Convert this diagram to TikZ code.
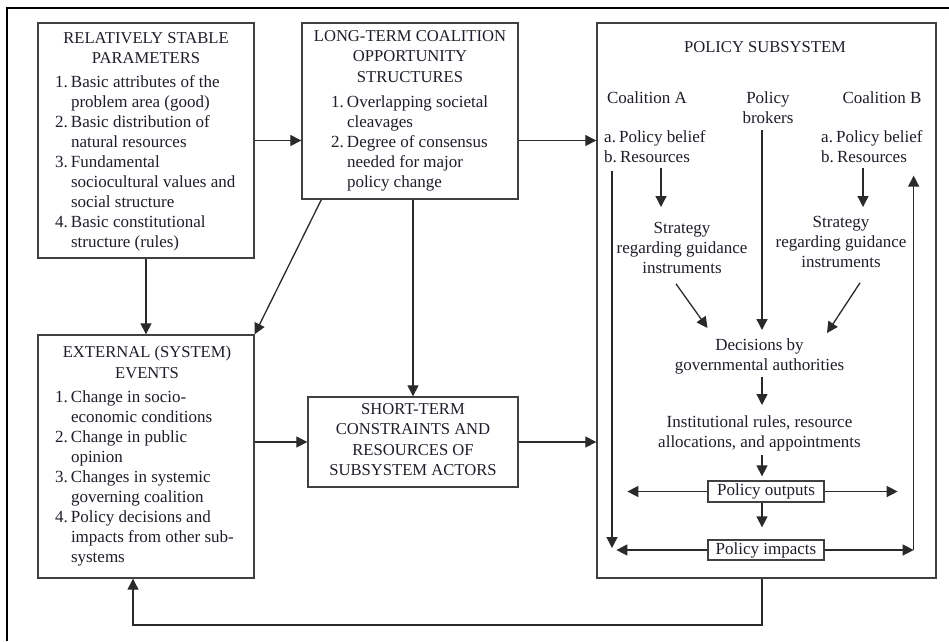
\documentclass[tikz,border=0pt]{standalone}
\usepackage{fontspec}
\setmainfont{Liberation Serif}
\usetikzlibrary{arrows.meta,calc}
\definecolor{txtc}{HTML}{1E1E2A}
\definecolor{linec}{HTML}{2A2A2A}
\definecolor{boxc}{HTML}{404040}
\newcommand{\itm}[1]{#1.\hspace{0.18em}}
\newcommand{\ind}{\hphantom{1.\hspace{0.18em}}}
\begin{document}
\begin{tikzpicture}[x=1pt,y=-1pt,
  boxx/.style={draw=boxc,line width=1.4pt,inner sep=0pt},
  txt/.style={text=txtc,font=\fontsize{17}{20}\selectfont,inner sep=1pt},
  ttl/.style={text=txtc,font=\fontsize{16.6}{20.5}\selectfont,inner sep=1pt,align=center},
  arr/.style={draw=linec,line width=1.3pt,-{Triangle[length=11pt,width=11pt]}},
  smallbox/.style={draw=boxc,line width=1.3pt,inner sep=0pt,text=txtc,font=\fontsize{17}{20}\selectfont}]
\useasboundingbox (0,0) rectangle (949,641);
\fill[white] (0,0) rectangle (949,641);
% outer frame (partly visible)
\draw[line width=2pt,black] (7,641) -- (7,8) -- (949,8);

% boxes
\node[boxx,minimum width=216pt,minimum height=235pt] (rsp) at (146,140.5) {};
\node[boxx,minimum width=216pt,minimum height=176pt] (ltc) at (410,111) {};
\node[boxx,minimum width=339pt,minimum height=555pt] (ps) at (766.5,300.5) {};
\node[boxx,minimum width=216pt,minimum height=243pt] (ee) at (146,456.5) {};
\node[boxx,minimum width=210pt,minimum height=90pt] (st) at (413,442) {};

% box texts
\node[ttl,anchor=north] (rspT) at (146,31) {RELATIVELY STABLE\\PARAMETERS};
\node[txt,anchor=north west,align=left] (rspL) at (54,74) {\itm{1}Basic attributes of the\\
\ind problem area (good)\\
\itm{2}Basic distribution of\\
\ind natural resources\\
\itm{3}Fundamental\\
\ind sociocultural values and\\
\ind social structure\\
\itm{4}Basic constitutional\\
\ind structure (rules)};

\node[ttl,anchor=north] (ltcT) at (410,29) {LONG-TERM COALITION\\OPPORTUNITY\\STRUCTURES};
\node[txt,anchor=north west,align=left] (ltcL) at (330,94) {\itm{1}Overlapping societal\\
\ind cleavages\\
\itm{2}Degree of consensus\\
\ind needed for major\\
\ind policy change};

\node[ttl,anchor=north] (eeT) at (147,345) {EXTERNAL (SYSTEM)\\EVENTS};
\node[txt,anchor=north west,align=left] (eeL) at (54,389) {\itm{1}Change in socio-\\
\ind economic conditions\\
\itm{2}Change in public\\
\ind opinion\\
\itm{3}Changes in systemic\\
\ind governing coalition\\
\itm{4}Policy decisions and\\
\ind impacts from other sub-\\
\ind systems};

\node[ttl,anchor=north] (stT) at (413,402) {SHORT-TERM\\CONSTRAINTS AND\\RESOURCES OF\\SUBSYSTEM ACTORS};

% policy subsystem contents
\node[ttl] (psT) at (765,47) {POLICY SUBSYSTEM};
\node[txt] (coA) at (647,98) {Coalition A};
\node[txt,anchor=north,align=center] (brk) at (768,90) {Policy\\brokers};
\node[txt] (coB) at (882,98) {Coalition B};
\node[txt,anchor=north west,align=left] (ba) at (603,129) {a.\hspace{0.18em}Policy belief\\b.\hspace{0.18em}Resources};
\node[txt,anchor=north west,align=left] (bb) at (820,129) {a.\hspace{0.18em}Policy belief\\b.\hspace{0.18em}Resources};
\node[txt,anchor=north,align=center] (stratA) at (682,221) {Strategy\\regarding guidance\\instruments};
\node[txt,anchor=north,align=center] (stratB) at (841,215) {Strategy\\regarding guidance\\instruments};
\node[txt,anchor=north,align=center] (dec) at (759.5,337) {Decisions by\\governmental authorities};
\node[txt,anchor=north,align=center] (inst) at (759.5,414) {Institutional rules, resource\\allocations, and appointments};
\node[smallbox,minimum width=116pt,minimum height=21pt] (outp) at (766,491.5) {Policy outputs};
\node[smallbox,minimum width=116pt,minimum height=20pt] (imp) at (766,550) {Policy impacts};

\coordinate (aAx) at (661,0);
\coordinate (bBx) at (863,0);
\coordinate (vx) at (762,0);
\coordinate (lvx) at (612,0);
\coordinate (fb) at (133,625);

% main connectors
\draw[arr] (rsp.east) -- (rsp.east -| ltc.west);
\draw[arr] (ltc.east |- rsp.east) -- (ps.west |- rsp.east);
\draw[arr] (rsp.south) -- (ee.north);
\draw[arr] ([xshift=20pt]ltc.south west) -- (ee.north east);
\draw[arr] (st.north |- ltc.south) -- (st.north);
\draw[arr] (ee.east |- st.west) -- (st.west);
\draw[arr] (st.east) -- (st.east -| ps.west);
\draw[arr] (ps.south -| vx) |- (fb) -- (fb |- ee.south);

% inside policy subsystem
\draw[arr,shorten <=4pt,shorten >=14pt] (ba.south -| aAx) -- (stratA.north -| aAx);
\draw[arr,shorten <=4pt,shorten >=8pt] (bb.south -| bBx) -- (stratB.north -| bBx);
\draw[arr] ($(stratA.south)+(-6,9)$) -- ($(dec.north)+(-52,-9)$);
\draw[arr] ($(stratB.south)+(19,14)$) -- ($(dec.north)+(67.5,-4)$);
\draw[arr,shorten <=6pt,shorten >=7pt] (brk.south -| vx) -- (dec.north -| vx);
\draw[arr,shorten <=2pt,shorten >=9pt] (dec.south -| vx) -- (inst.north -| vx);
\draw[arr,shorten <=3pt,shorten >=4pt] (inst.south -| vx) -- (outp.north -| vx);
\draw[arr,shorten >=12pt] (outp.south -| vx) -- (imp.north -| vx);
\draw[arr] (outp.west) -- ++(-80,0);
\draw[arr] (outp.east) -- ++(73,0);
\draw[arr] (imp.west) -- ++(-91,0);
\draw[arr] (imp.east) -- ++(89,0);
\draw[arr,shorten >=12pt] ([xshift=89pt]imp.east) -- ([xshift=89pt]imp.east |- bb.south);
\draw[arr,shorten <=7pt,shorten >=2pt] (ba.south -| lvx) -- (lvx |- imp.center);
\end{tikzpicture}
\end{document}
